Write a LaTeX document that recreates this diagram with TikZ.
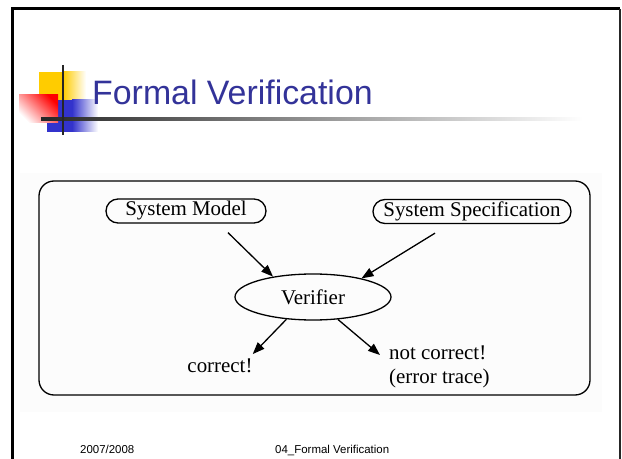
\documentclass[tikz,border=0pt]{standalone}
\usepackage{fontspec}
\setmainfont{Liberation Serif}
\newfontfamily\slidefont{Liberation Sans}
\usetikzlibrary{arrows.meta,shapes.geometric}

\definecolor{titleblue}{RGB}{51,51,153}
\definecolor{logoyellow}{RGB}{255,204,0}
\definecolor{logoblue}{RGB}{51,51,204}
\definecolor{logored}{RGB}{255,0,0}

\tikzset{
  pill/.style={draw, line width=1.3bp, rounded corners=12bp, minimum height=24bp,
    inner sep=0pt, font=\fontsize{21}{24}\selectfont},
  oval/.style={draw, ellipse, line width=1.3bp, minimum width=156bp, minimum height=46bp,
    inner sep=0pt, font=\fontsize{21}{24}\selectfont},
  result/.style={inner sep=0pt, font=\fontsize{21}{24}\selectfont},
  arr/.style={line width=1.3bp, -{Triangle[length=12bp,width=9bp]}},
  footer/.style={inner sep=0pt, anchor=base west, font=\slidefont\fontsize{11.5}{13}\selectfont}
}

\begin{document}
\begin{tikzpicture}[x=1bp,y=-1bp]

\useasboundingbox (0,0) rectangle (622,459);
\clip (0,0) rectangle (622,459);

% ===== Slide frame =====
\draw[line width=3bp] (12.5,470) -- (12.5,9) -- (620,9);
\draw[line width=1.5bp, black!85] (620,9) -- (620,470);

% ===== Logo =====
\fill[logoyellow] (39,72) rectangle (63,100);
\shade[left color=logoyellow, right color=white] (63,72) rectangle (86,100);
\fill[logoblue] (47,100) rectangle (72,132);
\shade[left color=logoblue, right color=white] (72,100) rectangle (98,132);
\shade[top color=logored, bottom color=white, shading angle=-45] (19,95) rectangle (58,123);
\shade[left color=black!85, right color=white] (41,117.5) rectangle (583,120.5);
\draw[line width=2.5bp, black!85] (63,65) -- (63,135);

% ===== Title =====
\node[inner sep=0pt, anchor=base west, text=titleblue,
      font=\slidefont\fontsize{34}{40}\selectfont] (title) at (92,105) {Formal Verification};

% ===== Diagram =====
\fill[black!1] (20,173) rectangle (602,412);
\draw[line width=1.3bp, rounded corners=15bp] (39,181) rectangle (590,395);

\node[pill, minimum width=160bp] (model) at (186,211) {System Model};
\node[pill, minimum width=198bp] (spec) at (472,211.5) {System Specification};
\node[oval] (verifier) at (313,297) {Verifier};
\node[result, anchor=base] (correct) at (220,372) {correct!};
\node[result, anchor=north west, align=left] (wrong) at (389,346) {not correct!\\(error trace)};

\draw[arr] ([xshift=42bp,yshift=-9bp]model.south) -- (verifier.153);
\draw[arr] ([xshift=-37bp,yshift=-9bp]spec.south) -- (verifier.21);
\draw[arr] (verifier.-140) -- ([yshift=4bp]correct.north east);
\draw[arr] (verifier.-42) -- ([xshift=-9bp,yshift=-9bp]wrong.north west);

% ===== Footer =====
\node[footer] (year) at (80,453) {2007/2008};
\node[footer] (topic) at (275,453) {04\_Formal Verification};

\end{tikzpicture}
\end{document}
